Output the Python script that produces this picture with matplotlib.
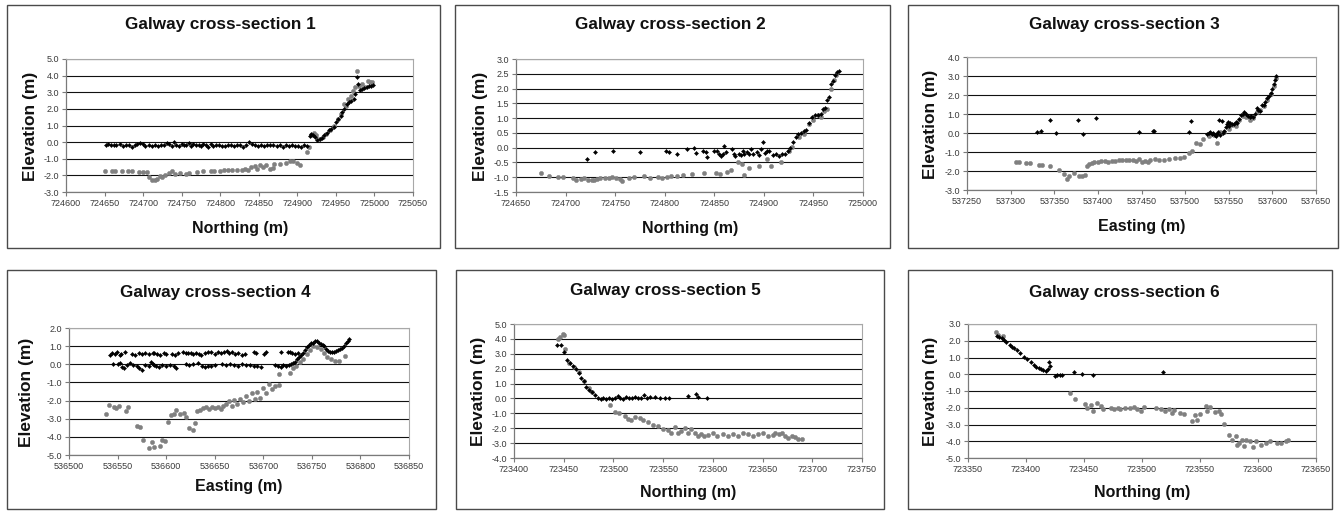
import matplotlib
matplotlib.use('Agg')
import matplotlib.pyplot as plt
from matplotlib.patches import Rectangle
from matplotlib.ticker import FormatStrFormatter, MultipleLocator

plt.rcParams['font.family'] = ['Liberation Sans', 'DejaVu Sans']

# ---------------- data ----------------
titles = ['Galway cross-section 1', 'Galway cross-section 2', 'Galway cross-section 3',
          'Galway cross-section 4', 'Galway cross-section 5', 'Galway cross-section 6']
xlabels = ['Northing (m)', 'Northing (m)', 'Easting (m)',
           'Easting (m)', 'Northing (m)', 'Northing (m)']
x_ranges = [(724600, 725050, 50), (724650, 725000, 50), (537250, 537650, 50),
            (536500, 536850, 50), (723400, 723750, 50), (723350, 723650, 50)]
y_ranges = [(-3.0, 5.0, 1.0), (-1.5, 3.0, 0.5), (-3.0, 4.0, 1.0),
            (-5.0, 2.0, 1.0), (-4.0, 5.0, 1.0), (-5.0, 3.0, 1.0)]

p1_gray = [(724651, -1.75), (724660, -1.72), (724663, -1.72), (724672, -1.75), (724680, -1.72),
           (724685, -1.72), (724695, -1.8), (724700, -1.78), (724705, -1.8), (724708, -2.1),
           (724712, -2.3), (724715, -2.25), (724718, -2.2), (724722, -2.05), (724725, -2.1),
           (724728, -1.95), (724733, -1.85), (724738, -1.75), (724742, -1.9), (724748, -1.85),
           (724755, -1.9), (724760, -1.85), (724770, -1.8), (724778, -1.75), (724788, -1.75),
           (724792, -1.72), (724800, -1.72), (724805, -1.68), (724810, -1.7), (724815, -1.68),
           (724822, -1.68), (724828, -1.65), (724832, -1.6), (724836, -1.7), (724840, -1.5),
           (724845, -1.45), (724848, -1.6), (724852, -1.35), (724856, -1.5), (724860, -1.35),
           (724865, -1.6), (724868, -1.55), (724870, -1.3), (724878, -1.3), (724885, -1.25),
           (724890, -1.15), (724895, -1.15), (724900, -1.25), (724903, -1.35), (724912, -0.6),
           (724915, -0.3), (724918, 0.4), (724921, 0.55), (724924, 0.4), (724928, 0.2),
           (724933, 0.3), (724937, 0.5), (724942, 0.75), (724948, 1.0), (724953, 1.4),
           (724957, 1.7), (724960, 2.3), (724963, 2.2), (724966, 2.6), (724969, 2.8),
           (724972, 3.1), (724975, 3.3), (724978, 4.3), (724980, 3.4), (724984, 3.5),
           (724988, 3.3), (724991, 3.7), (724994, 3.6), (724997, 3.6)]

p1_black = [(724652, -0.15), (724655, -0.12), (724658, -0.18), (724662, -0.15), (724665, -0.2),
            (724670, -0.12), (724674, -0.25), (724678, -0.18), (724682, -0.15), (724686, -0.3),
            (724689, -0.2), (724692, -0.1), (724696, -0.05), (724700, -0.12), (724703, -0.25),
            (724707, -0.18), (724711, -0.22), (724715, -0.2), (724719, -0.22), (724723, -0.2),
            (724727, -0.15), (724731, -0.05), (724734, -0.1), (724737, -0.25), (724740, 0.0),
            (724743, -0.15), (724747, -0.25), (724750, -0.1), (724753, -0.2), (724756, -0.15),
            (724759, -0.05), (724762, -0.22), (724765, -0.1), (724768, -0.2), (724772, -0.15),
            (724775, -0.25), (724778, -0.12), (724781, -0.2), (724784, -0.28), (724788, -0.1),
            (724791, -0.22), (724795, -0.18), (724798, -0.15), (724802, -0.22), (724806, -0.25),
            (724810, -0.2), (724814, -0.18), (724818, -0.22), (724822, -0.15), (724826, -0.2),
            (724830, -0.28), (724834, -0.15), (724837, 0.02), (724841, -0.12), (724845, -0.2),
            (724849, -0.25), (724853, -0.2), (724857, -0.22), (724861, -0.18), (724865, -0.2),
            (724869, -0.15), (724873, -0.22), (724877, -0.2), (724881, -0.28), (724885, -0.15),
            (724889, -0.22), (724893, -0.2), (724897, -0.25), (724901, -0.22), (724905, -0.28),
            (724909, -0.2), (724913, -0.25),
            (724916, 0.35), (724918, 0.5), (724920, 0.45), (724923, 0.3), (724926, 0.15),
            (724929, 0.2), (724932, 0.25), (724935, 0.4), (724938, 0.55), (724941, 0.75),
            (724944, 0.8), (724947, 0.9), (724950, 1.2), (724953, 1.4), (724956, 1.6),
            (724958, 1.8), (724961, 2.0), (724964, 2.3), (724967, 2.4), (724970, 2.5),
            (724973, 2.6), (724975, 2.9), (724977, 3.9), (724979, 3.5), (724981, 3.15),
            (724984, 3.2), (724987, 3.25), (724990, 3.3), (724993, 3.35), (724996, 3.4),
            (724998, 3.45)]

p2_gray = [(724675, -0.85), (724683, -0.95), (724692, -1.0), (724697, -1.0), (724707, -1.03),
           (724711, -1.08), (724716, -1.05), (724719, -1.03), (724723, -1.1), (724727, -1.1),
           (724729, -1.08), (724732, -1.05), (724735, -1.03), (724740, -1.03), (724744, -1.02),
           (724747, -0.98), (724751, -1.02), (724755, -1.05), (724757, -1.12), (724764, -1.03),
           (724769, -0.98), (724779, -0.97), (724785, -1.02), (724793, -1.0), (724797, -1.02),
           (724802, -0.98), (724806, -0.95), (724812, -0.95), (724818, -0.93), (724828, -0.9),
           (724840, -0.85), (724852, -0.86), (724856, -0.88), (724863, -0.83), (724867, -0.75),
           (724874, -0.5), (724878, -0.55), (724880, -0.93), (724885, -0.7), (724895, -0.63),
           (724903, -0.4), (724907, -0.62), (724917, -0.47), (724925, -0.12), (724928, 0.02),
           (724935, 0.35), (724940, 0.45), (724946, 0.8), (724950, 0.95), (724955, 1.1),
           (724958, 1.05), (724961, 1.25), (724964, 1.3), (724968, 2.0), (724971, 2.3),
           (724973, 2.45)]

p2_black = [(724722, -0.38), (724730, -0.14), (724748, -0.12), (724775, -0.15), (724801, -0.1),
            (724804, -0.15), (724812, -0.2), (724822, -0.05), (724830, 0.0), (724832, -0.18),
            (724839, -0.12), (724842, -0.15), (724843, -0.3), (724850, -0.1), (724853, -0.12),
            (724855, -0.22), (724857, -0.28), (724859, -0.2), (724860, 0.05), (724862, -0.15),
            (724868, -0.05), (724870, -0.2), (724871, -0.28), (724875, -0.2), (724877, -0.25),
            (724879, -0.1), (724880, -0.22), (724883, -0.15), (724885, -0.2), (724887, -0.05),
            (724889, -0.2), (724893, -0.15), (724895, -0.25), (724897, -0.05), (724899, 0.2),
            (724901, -0.18), (724903, -0.12), (724905, -0.12), (724909, -0.25), (724912, -0.22),
            (724915, -0.28), (724918, -0.2), (724921, -0.2), (724924, -0.1), (724926, 0.0),
            (724929, 0.2), (724932, 0.35), (724934, 0.45), (724937, 0.5), (724940, 0.55),
            (724943, 0.6), (724946, 0.85), (724949, 1.05), (724952, 1.12), (724955, 1.12),
            (724958, 1.15), (724960, 1.3), (724962, 1.35), (724964, 1.6), (724966, 1.72),
            (724968, 2.15), (724970, 2.25), (724972, 2.45), (724974, 2.55), (724976, 2.58)]

p3_gray = [(537306, -1.52), (537310, -1.52), (537318, -1.6), (537322, -1.6), (537332, -1.67),
           (537336, -1.67), (537345, -1.75), (537355, -1.97), (537361, -2.15), (537365, -2.4),
           (537367, -2.25), (537373, -2.1), (537378, -2.25), (537382, -2.25), (537385, -2.22),
           (537387, -1.75), (537390, -1.65), (537393, -1.6), (537396, -1.5), (537400, -1.5),
           (537404, -1.45), (537408, -1.48), (537412, -1.5), (537416, -1.48), (537420, -1.45),
           (537424, -1.42), (537428, -1.42), (537432, -1.4), (537436, -1.42), (537440, -1.4),
           (537444, -1.48), (537447, -1.38), (537450, -1.5), (537454, -1.45), (537457, -1.55),
           (537460, -1.42), (537465, -1.38), (537470, -1.42), (537476, -1.4), (537482, -1.38),
           (537488, -1.32), (537494, -1.3), (537499, -1.25), (537504, -1.05), (537508, -0.95),
           (537513, -0.5), (537517, -0.6), (537521, -0.3), (537527, -0.15), (537533, -0.08),
           (537537, -0.5), (537540, 0.05), (537545, 0.05), (537550, 0.2), (537554, 0.4),
           (537558, 0.35), (537562, 0.7), (537566, 0.9), (537570, 0.85), (537574, 0.7),
           (537578, 0.8), (537582, 1.1), (537586, 1.2), (537590, 1.4), (537594, 1.75),
           (537598, 2.05), (537602, 2.5), (537604, 2.9)]

p3_black = [(537330, 0.05), (537335, 0.08), (537345, 0.68), (537352, 0.0), (537377, 0.68),
            (537383, -0.03), (537398, 0.77), (537447, 0.07), (537463, 0.12), (537464, 0.08),
            (537505, 0.05), (537507, 0.65),
            (537525, -0.05), (537527, 0.0), (537529, 0.05), (537531, -0.05), (537532, 0.0),
            (537534, -0.1), (537535, -0.15), (537537, -0.05), (537538, 0.05), (537539, 0.68),
            (537540, -0.08), (537542, 0.62), (537543, 0.0), (537545, 0.1), (537547, 0.3),
            (537548, 0.5), (537549, 0.6), (537550, 0.35), (537552, 0.55), (537554, 0.45),
            (537556, 0.5), (537558, 0.6), (537560, 0.55), (537562, 0.75), (537564, 0.95),
            (537566, 1.0), (537568, 1.1), (537570, 1.0), (537572, 0.9), (537574, 0.85),
            (537576, 0.9), (537578, 0.85), (537580, 1.0), (537582, 1.3), (537584, 1.2),
            (537586, 1.15), (537588, 1.45), (537590, 1.5), (537592, 1.65), (537594, 1.85),
            (537596, 1.95), (537598, 2.1), (537600, 2.3), (537602, 2.6), (537603, 2.8),
            (537604, 3.0)]

p4_gray = [(536538, -2.75), (536541, -2.25), (536546, -2.38), (536548, -2.42), (536551, -2.3),
           (536559, -2.6), (536561, -2.38), (536570, -3.4), (536573, -3.48), (536576, -4.2),
           (536582, -4.6), (536585, -4.3), (536587, -4.55), (536594, -4.48), (536596, -4.15),
           (536599, -4.25), (536602, -3.2), (536605, -2.8), (536608, -2.75), (536610, -2.5),
           (536614, -2.75), (536618, -2.7), (536620, -2.9), (536624, -3.5), (536628, -3.6),
           (536630, -3.25), (536632, -2.6), (536635, -2.5), (536638, -2.4), (536641, -2.35),
           (536644, -2.45), (536647, -2.35), (536650, -2.4), (536653, -2.35), (536656, -2.45),
           (536659, -2.3), (536662, -2.2), (536665, -2.05), (536668, -2.3), (536670, -1.95),
           (536673, -2.2), (536676, -1.9), (536679, -2.1), (536682, -1.75), (536685, -2.05),
           (536688, -1.6), (536691, -1.9), (536694, -1.5), (536697, -1.85), (536700, -1.3),
           (536703, -1.6), (536706, -1.1), (536709, -1.35), (536712, -1.2), (536716, -1.15),
           (536716, -0.55), (536728, -0.5), (536731, -0.2), (536734, -0.1), (536738, 0.1),
           (536741, 0.3), (536745, 0.55), (536748, 0.8), (536751, 1.0), (536755, 0.95),
           (536759, 0.85), (536762, 0.6), (536766, 0.4), (536770, 0.3), (536774, 0.2),
           (536778, 0.2), (536784, 0.45)]

p4_black = [(536542, 0.5), (536544, 0.62), (536547, 0.55), (536549, 0.65), (536552, 0.5),
            (536554, 0.55), (536558, 0.7), (536565, 0.55), (536568, 0.5), (536572, 0.6),
            (536575, 0.55), (536578, 0.6), (536582, 0.55), (536586, 0.6), (536588, 0.6),
            (536591, 0.55), (536594, 0.5), (536598, 0.6), (536600, 0.55), (536606, 0.55),
            (536609, 0.5), (536612, 0.6), (536617, 0.7), (536620, 0.6), (536623, 0.62),
            (536626, 0.6), (536628, 0.55), (536631, 0.6), (536634, 0.55), (536636, 0.5),
            (536640, 0.6), (536643, 0.65), (536646, 0.7), (536650, 0.55), (536653, 0.65),
            (536656, 0.6), (536660, 0.7), (536663, 0.75), (536665, 0.6), (536668, 0.65),
            (536671, 0.55), (536674, 0.6), (536678, 0.5), (536681, 0.55), (536690, 0.7),
            (536693, 0.6), (536701, 0.55), (536703, 0.7), (536718, 0.65), (536725, 0.7),
            (536727, 0.65), (536730, 0.6), (536733, 0.55), (536736, 0.6),
            (536545, 0.0), (536550, 0.0), (536553, 0.05), (536555, -0.15), (536557, -0.2),
            (536560, -0.05), (536563, 0.05), (536566, -0.05), (536570, -0.1), (536572, -0.2),
            (536575, -0.3), (536578, -0.05), (536582, -0.1), (536584, 0.1), (536586, 0.0),
            (536588, -0.05), (536590, -0.1), (536593, -0.15), (536596, -0.05), (536600, -0.1),
            (536604, -0.05), (536608, -0.1), (536610, -0.2), (536620, 0.0), (536624, -0.05),
            (536628, 0.0), (536633, 0.05), (536637, -0.1), (536640, -0.15), (536643, -0.1),
            (536646, -0.1), (536650, -0.05), (536658, 0.0), (536662, -0.05), (536666, 0.0),
            (536670, -0.05), (536674, -0.1), (536678, 0.0), (536682, -0.05), (536686, -0.05),
            (536690, -0.1), (536694, -0.1), (536698, -0.15), (536712, -0.05), (536715, -0.1),
            (536718, -0.15), (536720, -0.05), (536723, -0.1), (536726, -0.05),
            (536729, 0.0), (536731, 0.05), (536733, 0.15), (536735, 0.3), (536737, 0.4),
            (536739, 0.5), (536741, 0.6), (536743, 0.8), (536745, 0.95), (536747, 1.05),
            (536749, 1.15), (536751, 1.2), (536753, 1.3), (536755, 1.3), (536757, 1.2),
            (536759, 1.1), (536761, 1.05), (536763, 1.0), (536765, 0.85), (536767, 0.75),
            (536769, 0.7), (536771, 0.65), (536773, 0.7), (536775, 0.75), (536777, 0.8),
            (536779, 0.85), (536781, 0.9), (536783, 1.0), (536785, 1.15), (536787, 1.3),
            (536788, 1.4)]

p5_gray = [(723444, 4.0), (723446, 4.1), (723449, 4.3), (723450, 4.25), (723451, 3.3),
           (723455, 2.4), (723460, 2.1), (723465, 1.8), (723470, 1.2), (723475, 0.7),
           (723478, 0.4), (723497, -0.45), (723502, -0.9), (723506, -1.0), (723512, -1.2),
           (723515, -1.35), (723518, -1.45), (723522, -1.25), (723527, -1.3), (723530, -1.45),
           (723535, -1.55), (723540, -1.8), (723545, -1.85), (723550, -2.05), (723555, -2.1),
           (723558, -2.3), (723562, -1.9), (723565, -2.3), (723568, -2.2), (723572, -2.0),
           (723575, -2.35), (723578, -2.05), (723582, -2.3), (723585, -2.5), (723588, -2.4),
           (723591, -2.55), (723595, -2.45), (723600, -2.35), (723604, -2.55), (723610, -2.4),
           (723615, -2.5), (723620, -2.4), (723625, -2.55), (723630, -2.3), (723635, -2.4),
           (723640, -2.55), (723645, -2.4), (723650, -2.3), (723655, -2.5), (723660, -2.45),
           (723663, -2.35), (723667, -2.4), (723670, -2.3), (723673, -2.5), (723676, -2.65),
           (723680, -2.5), (723683, -2.6), (723686, -2.7), (723690, -2.75)]

p5_black = [(723443, 3.6), (723447, 3.6), (723450, 3.1), (723453, 2.6), (723456, 2.4),
            (723459, 2.2), (723462, 2.0), (723465, 1.7), (723467, 1.4), (723470, 1.2),
            (723472, 0.8), (723475, 0.6), (723478, 0.4), (723481, 0.2), (723484, 0.0),
            (723487, -0.05), (723490, 0.0), (723493, -0.02), (723496, 0.0), (723499, -0.05),
            (723502, 0.05), (723505, 0.15), (723507, 0.0), (723510, -0.05), (723513, 0.1),
            (723516, 0.0), (723519, 0.05), (723522, 0.1), (723525, 0.05), (723528, 0.05),
            (723531, 0.2), (723534, 0.0), (723537, 0.1), (723542, 0.1), (723547, 0.05),
            (723552, 0.02), (723556, 0.0), (723575, 0.15), (723583, 0.3), (723585, 0.1),
            (723594, 0.05)]

p6_gray = [(723374, 2.55), (723376, 2.35), (723380, 2.3), (723438, -1.1), (723442, -1.5),
           (723451, -1.75), (723453, -2.0), (723456, -1.85), (723458, -2.2), (723461, -1.7),
           (723465, -1.9), (723466, -2.05), (723473, -2.0), (723476, -2.1), (723479, -2.0),
           (723481, -2.1), (723485, -2.0), (723490, -2.02), (723493, -1.95), (723496, -2.05),
           (723499, -2.2), (723502, -1.95), (723512, -2.0), (723516, -2.05), (723520, -2.2),
           (723523, -2.1), (723526, -2.3), (723528, -2.15), (723533, -2.3), (723536, -2.4),
           (723543, -2.8), (723546, -2.45), (723547, -2.75), (723550, -2.4), (723555, -1.9),
           (723556, -2.2), (723559, -1.95), (723563, -2.25), (723566, -2.2), (723568, -2.4),
           (723571, -2.95), (723575, -3.6), (723578, -3.9), (723581, -3.7), (723582, -4.2),
           (723584, -4.1), (723586, -3.9), (723588, -4.3), (723590, -3.9), (723593, -4.0),
           (723596, -4.35), (723598, -4.0), (723603, -4.2), (723607, -4.1), (723610, -4.0),
           (723616, -4.1), (723620, -4.1), (723624, -4.0), (723626, -3.95)]

p6_black = [(723375, 2.3), (723377, 2.2), (723379, 2.15), (723381, 2.05), (723383, 1.95),
            (723386, 1.75), (723388, 1.6), (723390, 1.55), (723392, 1.45), (723395, 1.25),
            (723398, 1.05), (723401, 0.9), (723404, 0.75), (723407, 0.55), (723409, 0.45),
            (723411, 0.35), (723413, 0.3), (723415, 0.25), (723417, 0.2), (723419, 0.3),
            (723420, 0.75), (723421, 0.5), (723425, -0.1), (723427, -0.05), (723429, -0.05),
            (723431, -0.05), (723441, 0.12), (723448, 0.0), (723458, -0.05), (723518, 0.15)]

gray_series = [p1_gray, p2_gray, p3_gray, p4_gray, p5_gray, p6_gray]
black_series = [p1_black, p2_black, p3_black, p4_black, p5_black, p6_black]

# ---------------- layout (pixels) ----------------
W, H = 1341, 515
boxes = [(7, 5, 440, 248), (455, 5, 890, 248), (908, 5, 1338, 248),
         (7, 270, 436, 509), (456, 270, 884, 509), (908, 270, 1332, 509)]
plot_areas = [(66, 59, 413, 192), (516, 59, 863, 192), (967, 57, 1316, 190),
              (69, 328, 409, 455), (514, 324, 862, 458), (968, 324, 1316, 458)]
title_pos = [(220, 25), (670, 25), (1124, 25), (215, 292), (665, 290), (1124, 292)]
xlabel_pos = [(240, 228), (690, 228), (1142, 227), (239, 487), (688, 492), (1142, 492)]
ylabel_pos = [(30, 126), (480, 126), (931, 124), (27, 392), (478, 391), (931, 391)]

fig = plt.figure(figsize=(W / 100, H / 100), dpi=100)

for i in range(6):
    bx0, by0, bx1, by1 = boxes[i]
    fig.patches.append(Rectangle((bx0 / W, 1 - by1 / H), (bx1 - bx0) / W, (by1 - by0) / H,
                                 transform=fig.transFigure, fill=False,
                                 edgecolor='#4a4a4a', linewidth=1.0))
    l, t, r, b = plot_areas[i]
    ax = fig.add_axes([l / W, 1 - b / H, (r - l) / W, (b - t) / H])
    x0, x1, xs = x_ranges[i]
    y0, y1, ys = y_ranges[i]
    ax.set_xlim(x0, x1)
    ax.set_ylim(y0, y1)
    ax.xaxis.set_major_locator(MultipleLocator(xs))
    ax.yaxis.set_major_locator(MultipleLocator(ys))
    ax.xaxis.set_major_formatter(FormatStrFormatter('%d'))
    ax.yaxis.set_major_formatter(FormatStrFormatter('%.1f'))
    ax.set_axisbelow(True)
    ax.yaxis.grid(True, color='#111111', linewidth=0.8)
    for side in ['top', 'right']:
        ax.spines[side].set_color('#a8a8a8')
        ax.spines[side].set_linewidth(0.8)
    for side in ['left', 'bottom']:
        ax.spines[side].set_color('#7a7a7a')
        ax.spines[side].set_linewidth(0.9)
    ax.tick_params(direction='out', length=3, width=0.8, color='#7a7a7a',
                   labelsize=6.5, labelcolor='#3a3a3a', pad=2)

    gx = [p[0] for p in gray_series[i]]
    gy = [p[1] for p in gray_series[i]]
    kx = [p[0] for p in black_series[i]]
    ky = [p[1] for p in black_series[i]]
    ax.plot(gx, gy, linestyle='none', marker='o', markersize=3.1,
            markerfacecolor='#808080', markeredgecolor='#808080', markeredgewidth=0.3,
            clip_on=False, zorder=3)
    ax.plot(kx, ky, linestyle='none', marker='D', markersize=2.1,
            markerfacecolor='black', markeredgecolor='black', markeredgewidth=0.3,
            clip_on=False, zorder=4)

    tx, ty = title_pos[i]
    fig.text(tx / W, 1 - ty / H, titles[i], ha='center', va='center',
             fontsize=12.3, fontweight='bold', color='#111111')
    lx, ly = xlabel_pos[i]
    fig.text(lx / W, 1 - ly / H, xlabels[i], ha='center', va='center',
             fontsize=11.5, fontweight='bold', color='#111111')
    yx, yy = ylabel_pos[i]
    fig.text(yx / W, 1 - yy / H, 'Elevation (m)', ha='center', va='center',
             rotation=90, fontsize=12.5, fontweight='bold', color='#111111')

fig.savefig('out.png', dpi=100)
